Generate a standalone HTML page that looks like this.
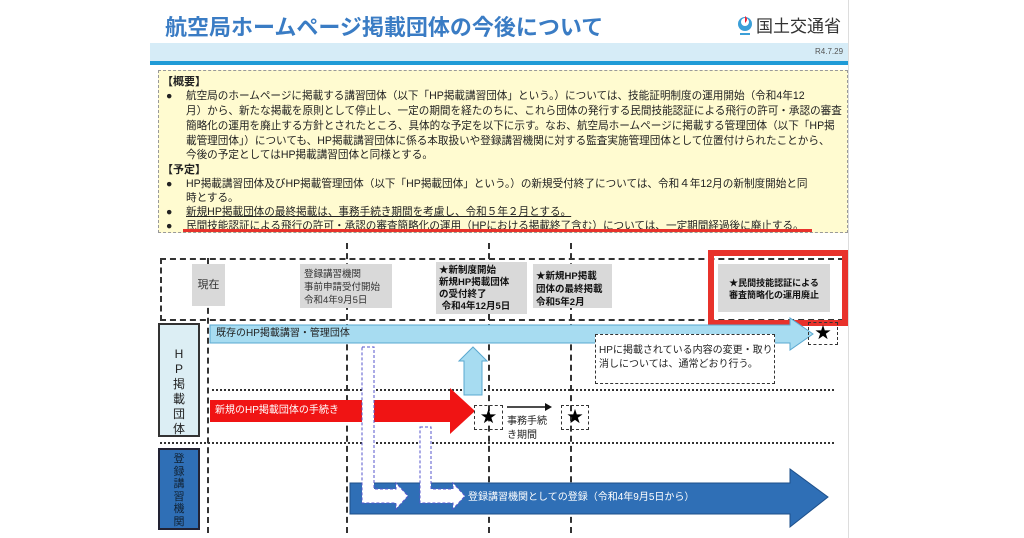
<!DOCTYPE html>
<html><head><meta charset="utf-8"><style>
body{margin:0;width:1024px;height:538px;background:#fff;position:relative;overflow:hidden;font-family:"Liberation Sans","Noto Sans CJK JP",sans-serif;}
.a{position:absolute;}
.t{position:absolute;white-space:nowrap;font-size:10.6px;color:#222;line-height:14px;}
.g{position:absolute;background:#d9d9d9;font-size:9.5px;line-height:13px;color:#333;}
.vd{position:absolute;width:0;border-left:2px dashed #333;}
</style></head><body>
<div class="a" style="left:150px;top:0;width:698px;height:538px;background:#fff;border-right:1px solid #ddd"></div>
<div class="t" style="left:165px;top:13px;font-size:22px;line-height:30px;font-weight:bold;color:#3a7cc4">航空局ホームページ掲載団体の今後について</div>
<svg class="a" style="left:736px;top:14px" width="18" height="24"><circle cx="9" cy="10" r="7" fill="#3b9fd8"/><circle cx="9" cy="8" r="4" fill="#fff"/><path d="M9 2 q4 3 0 7" fill="#e23" /><rect x="4" y="19" width="10" height="2" fill="#3b9fd8"/></svg>
<div class="t" style="left:756px;top:16px;font-size:17px;line-height:22px;color:#333">国土交通省</div>
<div class="a" style="left:150px;top:43px;width:698px;height:18px;background:#d6ecf7"></div>
<div class="a" style="left:150px;top:61px;width:698px;height:4px;background:#1f9bd7"></div>
<div class="t" style="left:815px;top:45px;font-size:8px;color:#555">R4.7.29</div>
<div class="a" style="left:158px;top:70px;width:688px;height:161px;background:#fffbd0;border:1px dashed #999"></div>
<div class="t" style="left:162px;top:75px;font-weight:bold;font-size:11px">【概要】</div>
<div class="t" style="left:166px;top:89px">●</div>
<div class="t" style="left:186px;top:89px">航空局のホームページに掲載する講習団体（以下「HP掲載講習団体」という。）については、技能証明制度の運用開始（令和4年12</div>
<div class="t" style="left:186px;top:104px">月）から、新たな掲載を原則として停止し、一定の期間を経たのちに、これら団体の発行する民間技能認証による飛行の許可・承認の審査</div>
<div class="t" style="left:186px;top:119px">簡略化の運用を廃止する方針とされたところ、具体的な予定を以下に示す。なお、航空局ホームページに掲載する管理団体（以下「HP掲</div>
<div class="t" style="left:186px;top:134px">載管理団体」）についても、HP掲載講習団体に係る本取扱いや登録講習機関に対する監査実施管理団体として位置付けられたことから、</div>
<div class="t" style="left:186px;top:148px">今後の予定としてはHP掲載講習団体と同様とする。</div>
<div class="t" style="left:162px;top:163px;font-weight:bold;font-size:11px">【予定】</div>
<div class="t" style="left:166px;top:177px">●</div>
<div class="t" style="left:186px;top:177px">HP掲載講習団体及びHP掲載管理団体（以下「HP掲載団体」という。）の新規受付終了については、令和４年12月の新制度開始と同</div>
<div class="t" style="left:186px;top:191px">時とする。</div>
<div class="t" style="left:166px;top:205px">●</div>
<div class="t" style="left:186px;top:205px;text-decoration:underline">新規HP掲載団体の最終掲載は、事務手続き期間を考慮し、令和５年２月とする。</div>
<div class="t" style="left:166px;top:219px">●</div>
<div class="t" style="left:186px;top:219px">民間技能認証による飛行の許可・承認の審査簡略化の運用（HPにおける掲載終了含む）については、一定期間経過後に廃止する。</div>
<div class="a" style="left:183px;top:229px;width:629px;height:3px;background:#e8322b"></div>

<div class="a" style="left:160px;top:258px;width:680px;height:59px;border:2px dashed #333"></div>
<div class="vd" style="left:207px;top:258px;height:275px"></div>
<div class="vd" style="left:346px;top:243px;height:290px"></div>
<div class="vd" style="left:488px;top:243px;height:290px"></div>
<div class="vd" style="left:570px;top:243px;height:290px"></div>
<div class="g" style="left:192px;top:264px;width:33px;height:42px;font-size:11px;line-height:42px;text-align:center">現在</div>
<div class="g" style="left:300px;top:264px;width:92px;height:44px;padding:4px 4px 0;box-sizing:border-box">登録講習機関<br>事前申請受付開始<br>令和4年9月5日</div>
<div class="g" style="left:436px;top:262px;width:91px;height:52px;padding:3px 3px 0;box-sizing:border-box;font-weight:bold;color:#111;line-height:12px">★新制度開始<br>新規HP掲載団体<br>の受付終了<br>&nbsp;令和4年12月5日</div>
<div class="g" style="left:533px;top:264px;width:79px;height:44px;padding:6px 3px 0;box-sizing:border-box;font-weight:bold;color:#111">★新規HP掲載<br>団体の最終掲載<br>令和5年2月</div>
<div class="a" style="left:708px;top:250px;width:128px;height:64px;border:6px solid #e8322b"></div>
<div class="g" style="left:718px;top:264px;width:112px;height:48px;padding:13px 2px 0;box-sizing:border-box;font-weight:bold;color:#111;text-align:center;font-size:9px;line-height:12px">★民間技能認証による<br>審査簡略化の運用廃止</div>

<div class="a" style="left:158px;top:323px;width:42px;height:114px;background:#dceef4;border:2px solid #333;box-sizing:border-box;font-size:12px;line-height:15px;text-align:center;padding-top:22px;color:#222">H<br>P<br>掲<br>載<br>団<br>体</div>
<div class="a" style="left:158px;top:448px;width:42px;height:82px;background:#2f6fb6;border:2px solid #223;box-sizing:border-box;font-size:11px;line-height:12.5px;text-align:center;padding-top:3px;color:#123">登<br>録<br>講<br>習<br>機<br>関</div>

<svg class="a" style="left:0;top:0" width="1024" height="538">
<line x1="212" y1="390" x2="836" y2="390" stroke="#333" stroke-width="2" stroke-dasharray="2,2"/>
<line x1="160" y1="443" x2="836" y2="443" stroke="#333" stroke-width="2" stroke-dasharray="2,2"/>
<polygon points="210,325 790,325 790,318 813,334 790,350 790,343 210,343" fill="#a7dcf1" stroke="#5aa8d0"/>
<polygon points="464,395 464,361 459,361 473,347 487,361 482,361 482,395" fill="#a7dcf1" stroke="#5aa8d0"/>
<polygon points="210,400 450,400 450,388 475,411 450,434 450,422 210,422" fill="#f01414"/>
<polygon points="350,483 790,483 790,469 828,497 790,527 790,514 350,514" fill="#2f6fb6" stroke="#1d4f8a"/>
<path d="M362 347 h12 v142 h22 v-6 l12 13 -12 13 v-6 h-34 z" fill="#fff" stroke="#55c" stroke-dasharray="3,2"/>
<path d="M420 427 h11 v62 h22 v-6 l12 13 -12 13 v-6 h-33 z" fill="#fff" stroke="#55c" stroke-dasharray="3,2"/>
<line x1="507" y1="407" x2="549" y2="407" stroke="#111" stroke-width="1.5"/>
<polygon points="552,407 545,403 545,411" fill="#111"/>
</svg>
<div class="a" style="left:808px;top:322px;width:28px;height:21px;border:1px dashed #333;font-size:16px;line-height:21px;text-align:center">★</div>
<div class="a" style="left:474px;top:405px;width:27px;height:23px;border:1px dashed #333;font-size:16px;line-height:23px;text-align:center">★</div>
<div class="a" style="left:561px;top:405px;width:26px;height:23px;border:1px dashed #333;font-size:16px;line-height:23px;text-align:center">★</div>
<div class="a" style="left:595px;top:334px;width:180px;height:50px;background:#fff;border:1.5px dashed #333;box-sizing:border-box"></div>
<div class="t" style="left:599px;top:344px;font-size:10px">HPに掲載されている内容の変更・取り<br>消しについては、通常どおり行う。</div>
<div class="t" style="left:216px;top:327px;font-size:10px">既存のHP掲載講習・管理団体</div>
<div class="t" style="left:215px;top:404px;font-size:10px;color:#fff">新規のHP掲載団体の手続き</div>
<div class="t" style="left:507px;top:415px;font-size:10px;line-height:14px">事務手続<br>き期間</div>
<div class="t" style="left:468px;top:491px;font-size:10px;color:#fff">登録講習機関としての登録（令和4年9月5日から）</div>
</body></html>
